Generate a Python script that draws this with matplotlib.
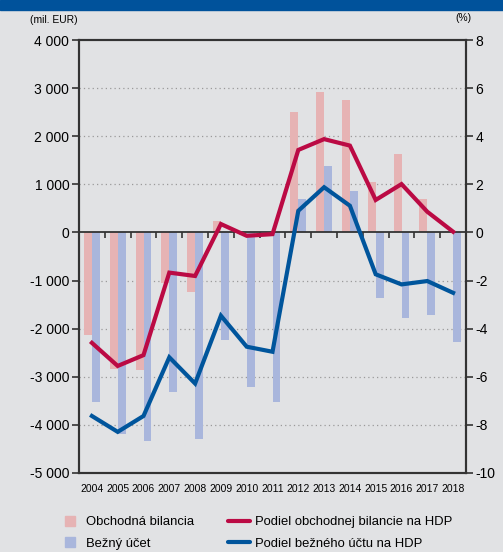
import matplotlib
matplotlib.use('Agg')
import matplotlib.pyplot as plt
from matplotlib.lines import Line2D
from matplotlib.ticker import FuncFormatter

plt.rcParams['font.family'] = ['Liberation Sans', 'DejaVu Sans']
plt.rcParams['axes.unicode_minus'] = False

# hodnoty odčítané z grafu
years = ['2004', '2005', '2006', '2007', '2008', '2009', '2010', '2011',
         '2012', '2013', '2014', '2015', '2016', '2017', '2018']
obchodna = [-2130, -2840, -2850, -1045, -1240, 237, -60, -30,
            2510, 2920, 2750, 1050, 1630, 695, 20]
bezny = [-3520, -4185, -4330, -3310, -4290, -2230, -3210, -3520,
         695, 1380, 860, -1355, -1775, -1710, -2270]
podiel_obch = [-4.59, -5.55, -5.10, -1.67, -1.81, 0.35, -0.14, -0.07,
               3.43, 3.88, 3.61, 1.35, 2.01, 0.86, 0.03]
podiel_bezny = [-7.63, -8.29, -7.63, -5.19, -6.28, -3.46, -4.75, -4.96,
                0.90, 1.88, 1.11, -1.74, -2.16, -2.02, -2.51]

bg = '#e1e2e4'
c_pink = '#e6b3b4'
c_lblue = '#a9b6dc'
c_red = '#bb0a44'
c_blue = '#00559c'
c_axis = '#333333'

fig = plt.figure(figsize=(5.03, 5.52), dpi=100)
fig.patch.set_facecolor(bg)
# modrý pás hore
fig.add_artist(plt.Rectangle((0, 1 - 10 / 552), 1, 10 / 552, transform=fig.transFigure,
                             color='#00529b', zorder=0))

ax = fig.add_axes([79 / 503, 1 - 473 / 552, (466 - 79) / 503, (473 - 40) / 552])
ax.set_facecolor(bg)
ax2 = ax.twinx()

x = list(range(len(years)))
w = 0.31
ax.bar([i - w / 2 for i in x], obchodna, width=w, color=c_pink, zorder=2)
ax.bar([i + w / 2 for i in x], bezny, width=w, color=c_lblue, zorder=2)

ax.set_xlim(-0.5, 14.5)
ax.set_ylim(-5000, 4000)
ax.set_yticks(range(-5000, 4001, 1000))
ax.yaxis.set_major_formatter(FuncFormatter(lambda v, p: f'{int(v):,}'.replace(',', ' ')))
for v in range(-4000, 4000, 1000):
    if v != 0:
        ax.axhline(v, color='#9a9a9a', lw=0.9, ls=(0, (1, 2.5)), zorder=1)
ax.axhline(0, color=c_axis, lw=1.3, zorder=3)

ax.set_xticks(x)
ax.set_xticklabels(years, fontsize=7.5)
ax.tick_params(axis='x', length=0, pad=8)
ax.tick_params(axis='y', labelsize=10, length=5, width=1.2, color=c_axis, pad=2)

# ticky na nulovej osi medzi rokmi
zero = ax.secondary_xaxis(5000 / 9000)
zero.set_xticks([i + 0.5 for i in x[:-1]])
zero.set_xticklabels([])
zero.tick_params(length=4, width=1.2, color=c_axis, direction='in')
for s in zero.spines.values():
    s.set_visible(False)

ax2.plot(x, podiel_obch, color=c_red, lw=3, solid_joinstyle='miter', zorder=4)
ax2.plot(x, podiel_bezny, color=c_blue, lw=3, solid_joinstyle='miter', zorder=4)
ax2.set_ylim(-10, 8)
ax2.set_yticks(range(-10, 9, 2))
ax2.tick_params(axis='y', labelsize=10, length=5, width=1.2, color=c_axis, pad=2)

for a in (ax, ax2):
    for s in a.spines.values():
        s.set_color(c_axis)
        s.set_linewidth(1.5)

fig.text(30 / 503, 1 - 20 / 552, '(mil. EUR)', fontsize=7.4, va='center', ha='left')
fig.text(471 / 503, 1 - 18 / 552, '(%)', fontsize=7.4, va='center', ha='right')

handles = [
    Line2D([], [], marker='s', ls='none', ms=7.2, color=c_pink),
    Line2D([], [], marker='s', ls='none', ms=7.2, color=c_lblue),
    Line2D([], [], color=c_red, lw=3, solid_capstyle='round'),
    Line2D([], [], color=c_blue, lw=3, solid_capstyle='round'),
]
labels = ['Obchodná bilancia', 'Bežný účet',
          'Podiel obchodnej bilancie na HDP', 'Podiel bežného účtu na HDP']
fig.legend(handles, labels, ncol=2, frameon=False, fontsize=9.4,
           loc='upper left', bbox_to_anchor=(59.5 / 503, 1 - 516 / 552),
           borderpad=0, borderaxespad=0,
           handlelength=1.65, handletextpad=0.4, columnspacing=2.6, labelspacing=0.72)

fig.savefig('out.png', dpi=100, facecolor=bg)
